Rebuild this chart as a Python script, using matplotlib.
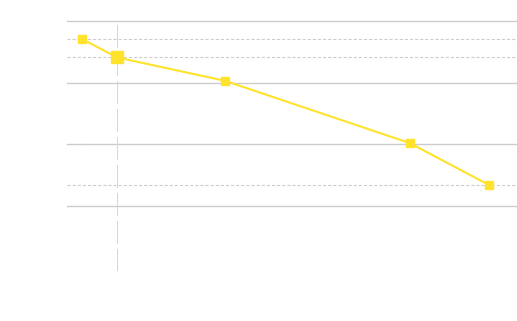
import matplotlib
matplotlib.use("Agg")
import matplotlib.pyplot as plt

# data
x_vals = [3.3, 11.1, 35.1, 76.2, 93.8]
y_vals = [2.71, 2.41, 2.03, 1.02, 0.34]
highlight = 1                  # the hovered point
ref_points = [0, 1, 4]         # points with a dotted reference line
grid_ticks = [0, 1, 2, 3]

YELLOW = "#ffe22b"
GRID = "#cccccc"


def main():
    fig = plt.figure(figsize=(5.17, 3.21), dpi=100)
    ax = fig.add_axes([67 / 517, 1 - 206 / 321, 450 / 517, 185 / 321])
    ax.set_xlim(0, 100)
    ax.set_ylim(0, 3)
    ax.axis("off")

    # gridlines, with a short stub at the left and a small gap
    start = (82 - 67) / 450
    stub = (80.5 - 67) / 450
    for t in grid_ticks:
        ax.axhline(t, xmin=start, xmax=1, color=GRID, lw=1, clip_on=False, zorder=1)
        ax.axhline(t, xmin=0, xmax=stub, color=GRID, lw=1, clip_on=False, zorder=1)

    # dotted reference lines
    for i in ref_points:
        ax.axhline(y_vals[i], color=GRID, lw=0.8, ls=(0, (2.8, 1.8)), zorder=1)

    # crosshair on the hovered point
    ax.plot([x_vals[highlight]] * 2, [2.935, -1.04], color=YELLOW, lw=1,
            ls=(0, (16, 4)), clip_on=False, antialiased=False, zorder=2)

    ax.plot(x_vals, y_vals, color=YELLOW, lw=1.5, marker="s", ms=6,
            mec=YELLOW, mfc=YELLOW, clip_on=False, zorder=3)
    ax.plot([x_vals[highlight]], [y_vals[highlight]], marker="s", ms=9,
            color=YELLOW, clip_on=False, zorder=4)

    fig.savefig("out.png", dpi=100)


if __name__ == "__main__":
    main()
